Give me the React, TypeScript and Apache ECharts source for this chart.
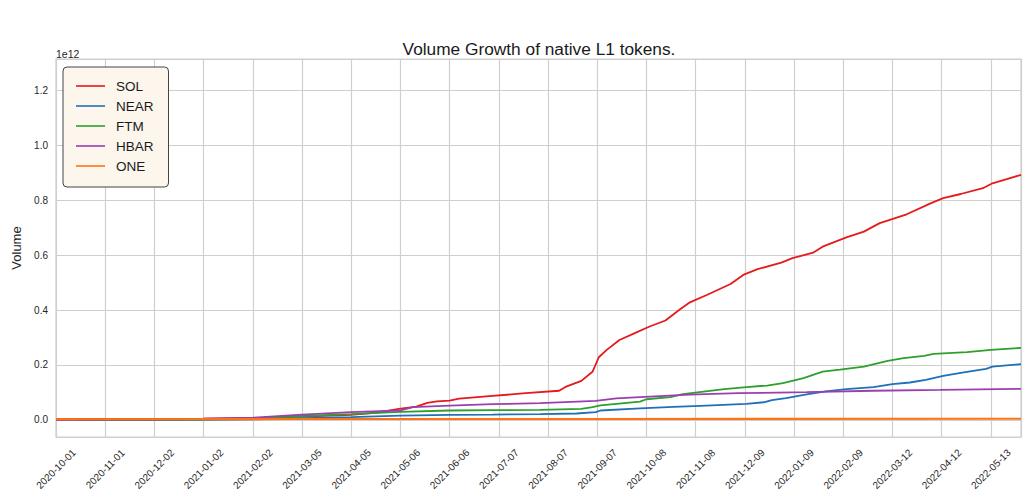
import React, { useEffect, useRef } from "react";
import * as echarts from "echarts";

// ---------- data (volumes in billions) ----------
const BASE_DATE = "2020-10-01";
const END_DAY = 608;
const TICK_STEP_DAYS = 31;
const SCALE = 1e9;

const SERIES_NAMES = ["SOL", "NEAR", "FTM", "HBAR", "ONE"];
const COLORS = ["#e41a1c", "#1f70b8", "#2ca02c", "#9b3fb0", "#ff7314"];

const SOL_DATES = [
  "2020-10-01", "2020-12-02", "2021-01-02", "2021-02-02", "2021-03-05", "2021-04-05",
  "2021-04-21", "2021-05-05", "2021-05-16", "2021-05-23", "2021-05-29", "2021-06-06",
  "2021-06-12", "2021-07-03", "2021-07-24", "2021-08-14", "2021-08-18", "2021-08-28",
  "2021-09-04", "2021-09-08", "2021-09-13", "2021-09-21", "2021-10-01", "2021-10-10",
  "2021-10-20", "2021-10-29", "2021-11-04", "2021-11-15", "2021-11-30", "2021-12-08",
  "2021-12-17", "2022-01-01", "2022-01-08", "2022-01-21", "2022-01-27", "2022-02-11",
  "2022-02-22", "2022-03-04", "2022-03-21", "2022-04-05", "2022-04-13", "2022-04-24",
  "2022-05-08", "2022-05-14", "2022-05-23", "2022-06-01",
];
const SOL_VALUES = [
  2, 3, 4, 6, 12, 18,
  26, 40, 48, 62, 67, 70,
  77, 87, 97, 106, 120, 142,
  175, 228, 255, 291, 317, 340,
  362, 402, 427, 455, 495, 528,
  549, 573, 589, 609, 631, 665,
  686, 717, 749, 789, 808, 823,
  844, 862, 877, 893,
];

const NEAR_DATES = [
  "2020-10-14", "2020-12-02", "2021-01-02", "2021-02-02", "2021-03-05", "2021-04-05",
  "2021-05-06", "2021-06-06", "2021-07-03", "2021-08-02", "2021-08-25", "2021-09-06",
  "2021-09-09", "2021-10-04", "2021-10-25", "2021-11-11", "2021-12-10", "2021-12-21",
  "2021-12-26", "2022-01-04", "2022-01-17", "2022-01-29", "2022-02-11", "2022-02-28",
  "2022-03-12", "2022-03-23", "2022-04-02", "2022-04-13", "2022-04-25", "2022-05-10",
  "2022-05-14", "2022-06-01",
];
const NEAR_VALUES = [
  -1, -1, 0, 2, 6, 10,
  15, 18, 19, 21, 23, 28,
  34, 42, 47, 51, 58, 64,
  72, 79, 93, 104, 112, 119,
  130, 136, 146, 160, 172, 186,
  194, 203,
];

const FTM_DATES = [
  "2020-10-01", "2020-12-02", "2021-01-02", "2021-02-02", "2021-03-05", "2021-04-05",
  "2021-05-06", "2021-06-06", "2021-07-03", "2021-08-02", "2021-08-28", "2021-09-04",
  "2021-09-09", "2021-10-04", "2021-10-08", "2021-10-23", "2021-10-31", "2021-11-26",
  "2021-12-10", "2021-12-23", "2022-01-02", "2022-01-15", "2022-01-27", "2022-02-07",
  "2022-02-22", "2022-03-09", "2022-03-19", "2022-04-01", "2022-04-07", "2022-04-28",
  "2022-05-13", "2022-06-01",
];
const FTM_VALUES = [
  0, 1, 2, 5, 14, 21,
  29, 34, 35, 36, 40, 46,
  53, 66, 75, 83, 94, 112,
  119, 125, 134, 152, 176, 183,
  194, 215, 225, 233, 240, 247,
  255, 262,
];

const HBAR_DATES = [
  "2020-10-01", "2020-12-02", "2021-01-02", "2021-02-02", "2021-03-05", "2021-04-05",
  "2021-05-06", "2021-05-14", "2021-06-06", "2021-07-03", "2021-08-02", "2021-09-06",
  "2021-09-19", "2021-10-04", "2021-11-04", "2021-12-05", "2022-01-17", "2022-02-28",
  "2022-04-11", "2022-06-01",
];
const HBAR_VALUES = [
  0, 2, 4, 8, 19, 28,
  34, 46, 52, 57, 61, 69,
  78, 83, 92, 97, 101, 106,
  109, 113,
];

const ONE_DATES = ["2020-10-01", "2021-03-01", "2021-09-01", "2022-06-01"];
const ONE_VALUES = [2, 3, 3, 4];

const SERIES_DATES = [SOL_DATES, NEAR_DATES, FTM_DATES, HBAR_DATES, ONE_DATES];
const SERIES_VALUES = [SOL_VALUES, NEAR_VALUES, FTM_VALUES, HBAR_VALUES, ONE_VALUES];

// ---------- helpers ----------
const DAY_MS = 86400000;
const BASE_MS = Date.parse(BASE_DATE + "T00:00:00Z");
const toDay = (d: string) => Math.round((Date.parse(d + "T00:00:00Z") - BASE_MS) / DAY_MS);
const fromDay = (n: number) => new Date(BASE_MS + n * DAY_MS).toISOString().slice(0, 10);

const FONT = "'Liberation Sans', Arial, sans-serif";
const TEXT = "#262626";
const GRID = "#cfcfcf";

export default function App() {
  const ref = useRef<HTMLDivElement>(null);

  useEffect(() => {
    document.body.style.margin = "0";
    if (!ref.current) return;
    const chart = echarts.init(ref.current, null, { renderer: "svg" });

    const series = SERIES_NAMES.map((name, i) => ({
      name,
      type: "line",
      showSymbol: false,
      symbol: "none",
      color: COLORS[i],
      lineStyle: { color: COLORS[i], width: i === 4 ? 2.2 : 1.8 },
      data: SERIES_DATES[i].map((d, j) => [toDay(d), SERIES_VALUES[i][j] * SCALE]),
    }));

    chart.setOption({
      animation: false,
      backgroundColor: "#ffffff",
      textStyle: { fontFamily: FONT },
      grid: {
        left: 56,
        right: 3,
        top: 59,
        bottom: 62,
        containLabel: false,
        outerBoundsMode: "none",
        show: true,
        borderColor: GRID,
        borderWidth: 1.25,
      },
      legend: {
        orient: "vertical",
        left: 63,
        top: 67,
        icon: "rect",
        itemWidth: 29,
        itemHeight: 1.6,
        itemGap: 6,
        padding: [12, 15, 14, 13],
        backgroundColor: "rgba(252,246,236,0.95)",
        borderColor: "#444444",
        borderWidth: 1,
        borderRadius: 4,
        textStyle: {
          fontFamily: FONT,
          fontSize: 13.5,
          color: "#1a1a1a",
          lineHeight: 14,
          padding: [0, 0, 0, 6],
        },
        data: SERIES_NAMES,
      },
      xAxis: {
        type: "value",
        min: 0,
        max: END_DAY,
        interval: TICK_STEP_DAYS,
        axisLine: { show: false },
        axisTick: { show: false },
        splitLine: { show: true, lineStyle: { color: GRID, width: 1.2 } },
        axisLabel: {
          rotate: 45,
          align: "center",
          verticalAlign: "middle",
          margin: 32,
          fontSize: 10,
          color: TEXT,
          fontFamily: FONT,
          showMaxLabel: false,
          formatter: (v: number) => (Math.round(v) % TICK_STEP_DAYS === 0 ? fromDay(Math.round(v)) : ""),
        },
      },
      yAxis: {
        type: "value",
        min: -62.6 * SCALE,
        max: 1315 * SCALE,
        splitNumber: 7,
        name: "Volume",
        nameLocation: "middle",
        nameGap: 27,
        nameRotate: 90,
        nameTextStyle: { fontSize: 13, color: TEXT, fontFamily: FONT },
        axisLine: { show: false },
        axisTick: { show: false },
        splitLine: { show: true, lineStyle: { color: GRID, width: 1.2 } },
        axisLabel: {
          margin: 8,
          fontSize: 10,
          color: TEXT,
          fontFamily: FONT,
          showMinLabel: false,
          showMaxLabel: false,
          formatter: (v: number) => {
            const b = Math.round(v / SCALE);
            return b % 200 === 0 ? (v / 1e12).toFixed(1) : "";
          },
        },
      },
      graphic: [
        {
          type: "text",
          x: 539,
          y: 49,
          style: {
            text: "Volume Growth of native L1 tokens.",
            fontSize: 17.3,
            fontFamily: FONT,
            fill: "#1a1a1a",
            align: "center",
            verticalAlign: "middle",
          },
        },
        {
          type: "text",
          x: 56,
          y: 54,
          style: {
            text: "1e12",
            fontSize: 10.5,
            fontFamily: FONT,
            fill: TEXT,
            align: "left",
            verticalAlign: "middle",
          },
        },
      ],
      series,
    });

    return () => chart.dispose();
  }, []);

  return <div ref={ref} style={{ width: 1024, height: 499 }} />;
}
